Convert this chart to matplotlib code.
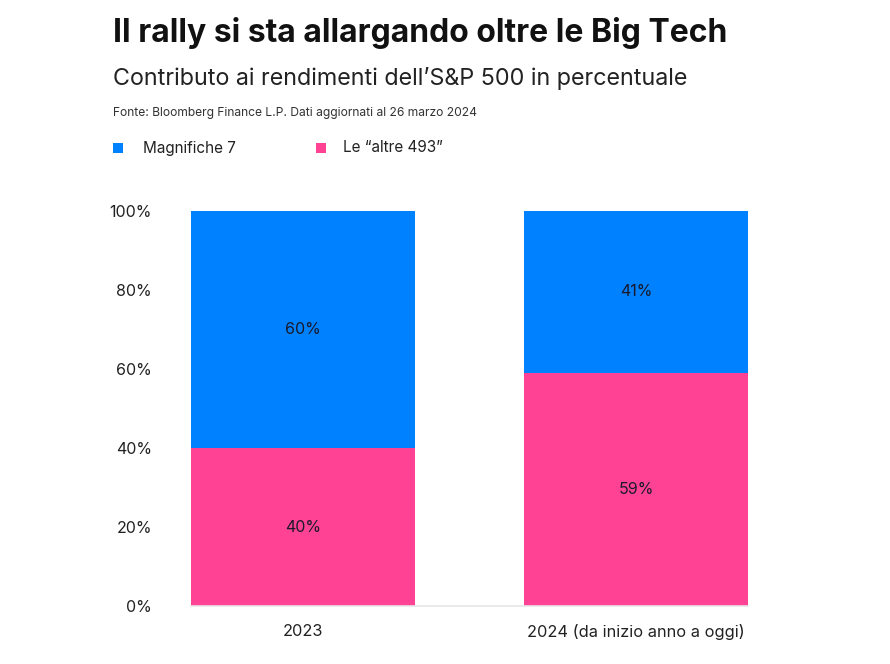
import matplotlib
matplotlib.use("Agg")
import matplotlib.pyplot as plt
from matplotlib.patches import Rectangle

categories = ["2023", "2024 (da inizio anno a oggi)"]
altre_493 = [40, 59]
magnifiche_7 = [60, 41]
series_names = ["Magnifiche 7", "Le \u201caltre 493\u201d"]
yticks = [0, 20, 40, 60, 80, 100]

BLUE = "#0081FF"
PINK = "#FF4294"
FONT = "Inter"
plt.rcParams['font.family'] = [FONT, 'DejaVu Sans']

fig = plt.figure(figsize=(8.9, 6.64), dpi=100)
ax = fig.add_axes([191/890, 1-606/664, 557/890, 395/664])

x = list(range(len(categories)))
w = 0.673
ax.bar(x, altre_493, width=w, color=PINK, linewidth=0)
ax.bar(x, magnifiche_7, width=w, bottom=altre_493, color=BLUE, linewidth=0)
for xi, a, m in zip(x, altre_493, magnifiche_7):
    ax.text(xi, a/2, f"{a}%", ha="center", va="center", fontsize=11.5, color="#1a1a2a")
    ax.text(xi, a + m/2, f"{m}%", ha="center", va="center", fontsize=11.5, color="#1a1a2a")

ax.set_xlim(-w/2, 1 + w/2)
ax.set_ylim(0, 100)
ax.set_yticks(yticks)
ax.set_yticklabels([f"{t}%" for t in yticks], fontsize=11.5, color="#222222")
ax.set_xticks(x)
ax.set_xticklabels(categories, fontsize=11.8, color="#222222")
ax.tick_params(axis="both", length=0)
ax.tick_params(axis="y", pad=28)
ax.tick_params(axis="x", pad=13)
for s in ["top", "right", "left"]:
    ax.spines[s].set_visible(False)
ax.spines["bottom"].set_color("#e6e6e6")
ax.spines["bottom"].set_linewidth(1.2)

fig.text(113/890, 1-33/664, "Il rally si sta allargando oltre le Big Tech", fontsize=23,
         fontweight="bold", ha="left", va="center", color="#111111")
fig.text(113/890, 1-78/664, "Contributo ai rendimenti dell\u2019S&P 500 in percentuale", fontsize=16.8,
         ha="left", va="center", color="#222222")
fig.text(113/890, 1-113/664, "Fonte: Bloomberg Finance L.P. Dati aggiornati al 26 marzo 2024", fontsize=8.7,
         ha="left", va="center", color="#333333")

# legend
for (mx, tx), name, col in zip([(113, 143), (316, 343)], series_names, [BLUE, PINK]):
    fig.patches.append(Rectangle((mx/890, 1-153/664), 10/890, 10/664, transform=fig.transFigure,
                                 color=col, linewidth=0))
    fig.text(tx/890, 1-148/664, name, fontsize=11, ha="left", va="center", color="#222222")

fig.savefig("out.png", dpi=100, facecolor="white")
